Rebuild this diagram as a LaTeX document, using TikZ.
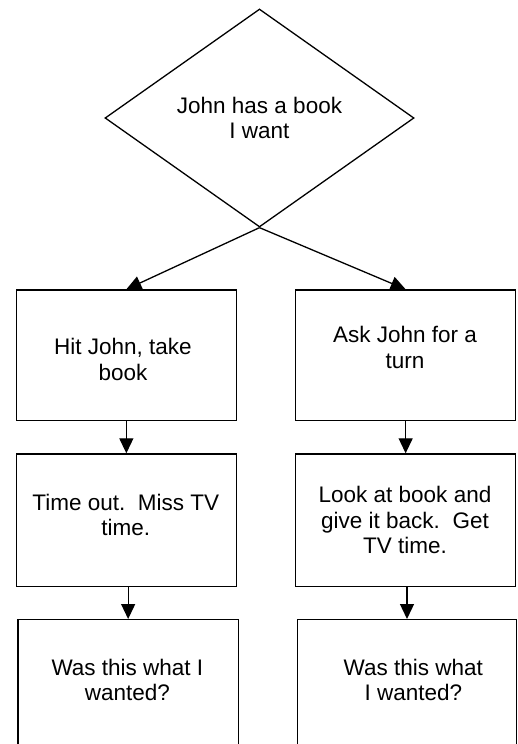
\documentclass[tikz,border=0pt]{standalone}
\usepackage{fontspec}
\setmainfont{Liberation Sans}
\usetikzlibrary{shapes.geometric,arrows.meta}
\begin{document}
\begin{tikzpicture}[x=1pt,y=-1pt,
  every node/.style={font=\fontsize{22.5}{25.5}\selectfont},
  box/.style={draw,line width=1.3pt,inner sep=0pt,anchor=north west},
  txt/.style={align=center,inner sep=0pt,anchor=north},
  arr/.style={line width=1.3pt,-{Triangle[length=15pt,width=14pt]}}]
\useasboundingbox (0,0) rectangle (517,744);
\clip (0,0) rectangle (517,744);
\fill[white] (0,0) rectangle (517,744);
\node[draw,diamond,line width=1.3pt,inner sep=0pt,minimum width=309pt,minimum height=218pt,align=center] (d) at (259.5,118) {John has a book\\I want};
\node[box,minimum width=220pt,minimum height=130.7pt] (b1) at (15.7,289.3) {};
\node[box,minimum width=220pt,minimum height=130.7pt] (b2) at (295,289.3) {};
\node[box,minimum width=220pt,minimum height=132.4pt] (b3) at (15.7,453.3) {};
\node[box,minimum width=220pt,minimum height=132.4pt] (b4) at (295,453.3) {};
\node[box,minimum width=220.4pt,minimum height=160pt] (b5) at (17.3,619) {};
\node[box,minimum width=219.3pt,minimum height=160pt] (b6) at (296.7,619) {};
\node[txt] (t1) at (123,338) {Hit John, take\\book};
\node[txt] (t2) at (405,326) {Ask John for a\\turn};
\node[txt] (t3) at (125.8,493.5) {Time out.\ \ Miss TV\\time.};
\node[txt] (t4) at (405,486) {Look at book and\\give it back.\ \ Get\\TV time.};
\node[txt] (t5) at (127.4,658.5) {Was this what I\\wanted?};
\node[txt] (t6) at (413.3,658.5) {Was this what\\I wanted?};
\draw[arr] (d.south) -- (b1.north);
\draw[arr] (d.south) -- (b2.north);
\draw[arr] (b1.south) -- (b3.north);
\draw[arr] (b2.south) -- (b4.north);
\draw[arr] (b3.south -| b5.north) -- (b5.north);
\draw[arr] (b4.south -| b6.north) -- (b6.north);
\end{tikzpicture}
\end{document}
